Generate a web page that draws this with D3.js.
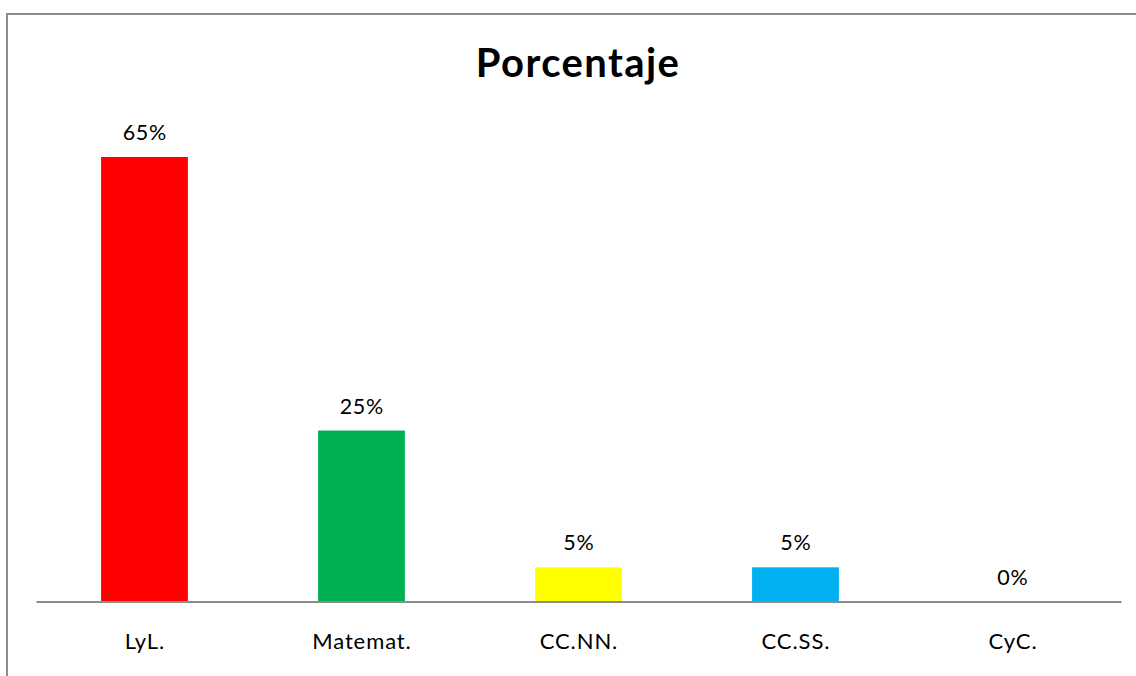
<!DOCTYPE html>
<html><head><meta charset="utf-8">
<script src="https://cdn.jsdelivr.net/npm/d3@7"></script>
<style>body{margin:0;background:#fff;} svg{display:block;}</style>
</head><body>
<script>
const categories = ["LyL.", "Matemat.", "CC.NN.", "CC.SS.", "CyC."];
const values = [65, 25, 5, 5, 0];
const colors = ["#FF0000", "#00B050", "#FFFF00", "#00B0F0", "#7F7F7F"];
const title = "Porcentaje";

const W = 1136, H = 676;
const svg = d3.select("body").append("svg").attr("width", W).attr("height", H);
const font = "Lato, 'Open Sans', sans-serif";

// chart border (partially visible)
svg.append("path").attr("d", "M7,676 L7,14 L1136,14")
  .attr("fill", "none").attr("stroke", "#8c8c8c").attr("stroke-width", 2);

const x = d3.scaleBand().domain(categories).range([36, 1121]).paddingInner(0.6).paddingOuter(0.3);
const y = d3.scaleLinear().domain([0, 65]).range([601.5, 157]);

svg.append("text").attr("x", 578).attr("y", 77).attr("text-anchor", "middle")
  .attr("font-family", font).attr("font-weight", "bold").attr("font-size", 40)
  .attr("letter-spacing", 1.4)
  .attr("fill", "#000").text(title);

svg.selectAll("rect.bar").data(values).enter().append("rect")
  .attr("x", (d, i) => x(categories[i]))
  .attr("width", x.bandwidth())
  .attr("y", d => y(d))
  .attr("height", d => y(0) - y(d))
  .attr("fill", (d, i) => colors[i]);

svg.selectAll("text.val").data(values).enter().append("text")
  .attr("x", (d, i) => x(categories[i]) + x.bandwidth() / 2 + 0.3)
  .attr("y", d => y(d) - 17)
  .attr("text-anchor", "middle").attr("font-family", font).attr("font-size", 21.5)
  .attr("letter-spacing", 0.6)
  .attr("fill", "#000").text(d => d + "%");

const axis = d3.axisBottom(x).tickSize(0).tickPadding(32);
const g = svg.append("g").attr("transform", `translate(0,${y(0)})`).call(axis);
g.select(".domain").attr("stroke", "#8c8c8c").attr("stroke-width", 2);
g.selectAll("text").attr("font-family", font).attr("font-size", 22)
  .attr("letter-spacing", 0.9).attr("dx", 0.45).attr("fill", "#000");
</script>
</body></html>
